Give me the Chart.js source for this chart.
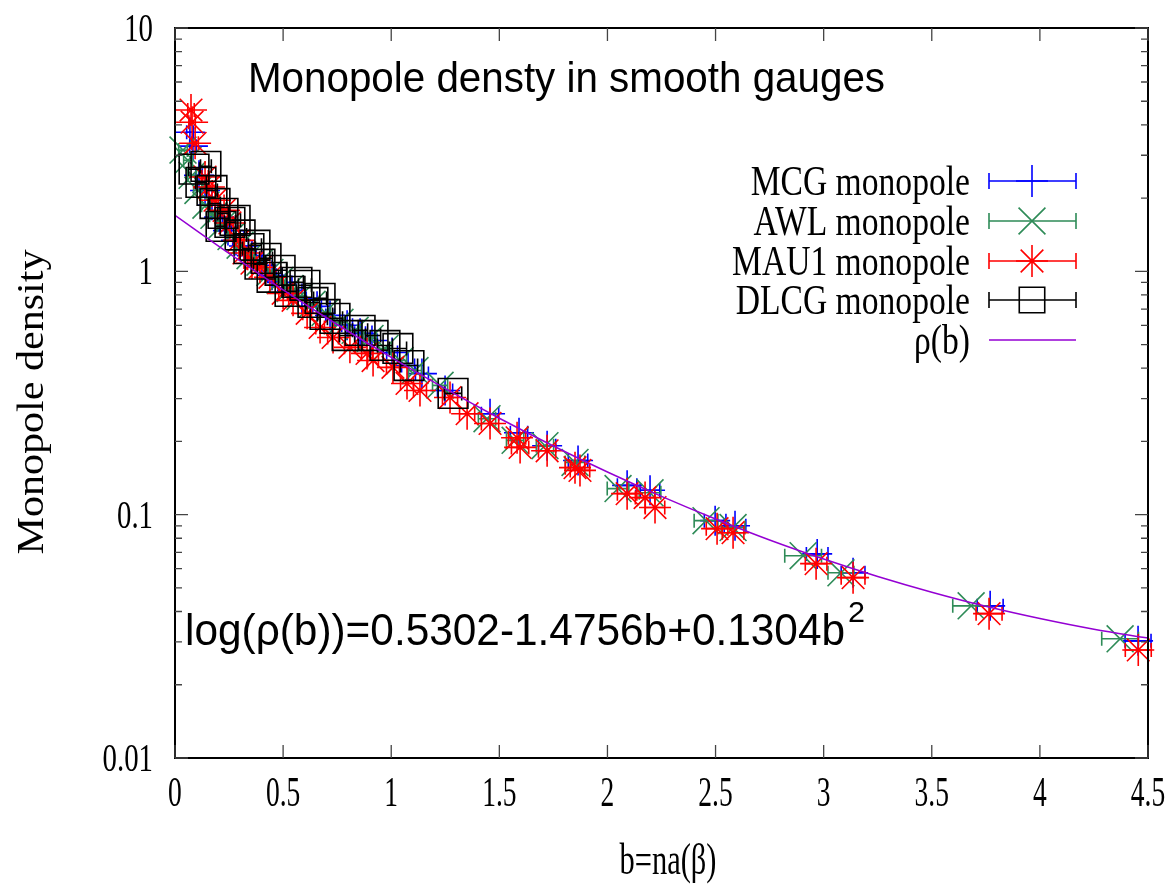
<!DOCTYPE html>
<html>
<head>
<meta charset="utf-8">
<script src="https://cdn.jsdelivr.net/npm/chart.js@4.4.0/dist/chart.umd.min.js"></script>
<style>
    html, body { margin: 0; padding: 0; background: #fff; }
</style>
</head>
<body>
<canvas id="densityChart" width="1172" height="884"></canvas>
<script>
// values (b, rho, x error)
const mcgB = [0.069, 0.083, 0.111, 0.139, 0.171, 0.204, 0.245, 0.282, 0.319, 0.356, 0.402, 0.449, 0.495, 0.541, 0.587, 0.657, 0.717, 0.796, 0.856, 0.911, 1.004, 1.078, 1.142, 1.249, 1.457, 1.591, 1.721, 1.864, 2.091, 2.197, 2.498, 2.590, 2.970, 3.136, 3.770, 4.454];
const mcgRho = [3.73, 3.27, 2.48, 2.15, 1.87, 1.67, 1.47, 1.34, 1.27, 1.16, 1.06, 0.963, 0.901, 0.835, 0.774, 0.718, 0.659, 0.600, 0.556, 0.520, 0.464, 0.410, 0.380, 0.324, 0.260, 0.217, 0.192, 0.167, 0.132, 0.126, 0.0945, 0.090, 0.069, 0.0577, 0.0422, 0.0303];
const mcgErr = [0.015, 0.015, 0.015, 0.015, 0.015, 0.015, 0.015, 0.015, 0.02, 0.02, 0.02, 0.02, 0.02, 0.02, 0.02, 0.02, 0.02, 0.025, 0.025, 0.025, 0.025, 0.03, 0.03, 0.035, 0.04, 0.04, 0.04, 0.045, 0.045, 0.045, 0.05, 0.05, 0.05, 0.055, 0.06, 0.06];

const awlB = [0.037, 0.060, 0.079, 0.106, 0.143, 0.180, 0.217, 0.259, 0.301, 0.347, 0.393, 0.439, 0.486, 0.532, 0.578, 0.634, 0.694, 0.763, 0.833, 0.902, 0.971, 1.041, 1.110, 1.226, 1.443, 1.573, 1.711, 1.850, 2.049, 2.197, 2.456, 2.581, 2.905, 3.080, 3.682, 4.371];
const awlRho = [3.15, 2.86, 2.48, 2.15, 1.87, 1.70, 1.55, 1.39, 1.28, 1.16, 1.09, 0.99, 0.918, 0.851, 0.789, 0.732, 0.678, 0.617, 0.572, 0.530, 0.482, 0.430, 0.391, 0.340, 0.248, 0.202, 0.192, 0.164, 0.128, 0.123, 0.0945, 0.0885, 0.0678, 0.0577, 0.0422, 0.0309];
const awlErr = [0.02, 0.02, 0.02, 0.02, 0.02, 0.02, 0.02, 0.02, 0.02, 0.02, 0.02, 0.02, 0.025, 0.025, 0.025, 0.025, 0.025, 0.025, 0.03, 0.03, 0.03, 0.03, 0.03, 0.035, 0.04, 0.04, 0.04, 0.045, 0.05, 0.05, 0.055, 0.055, 0.085, 0.06, 0.085, 0.085];

const mauB = [0.074, 0.079, 0.093, 0.139, 0.157, 0.185, 0.227, 0.254, 0.296, 0.319, 0.356, 0.393, 0.439, 0.500, 0.546, 0.611, 0.671, 0.731, 0.809, 0.888, 0.916, 1.008, 1.073, 1.133, 1.272, 1.351, 1.457, 1.582, 1.596, 1.721, 1.850, 1.873, 2.091, 2.174, 2.220, 2.507, 2.581, 2.965, 3.136, 3.765, 4.455];
const mauRho = [4.6, 4.10, 3.36, 2.44, 2.22, 1.96, 1.78, 1.58, 1.34, 1.19, 1.08, 1.04, 0.945, 0.812, 0.760, 0.672, 0.588, 0.535, 0.487, 0.460, 0.430, 0.403, 0.346, 0.324, 0.303, 0.260, 0.237, 0.207, 0.189, 0.183, 0.156, 0.152, 0.122, 0.1175, 0.107, 0.0876, 0.0843, 0.0629, 0.0551, 0.0392, 0.0278];
const mauErr = [0.015, 0.015, 0.015, 0.015, 0.015, 0.015, 0.015, 0.015, 0.02, 0.02, 0.02, 0.02, 0.02, 0.02, 0.02, 0.02, 0.02, 0.025, 0.025, 0.025, 0.025, 0.03, 0.03, 0.03, 0.035, 0.035, 0.04, 0.04, 0.04, 0.04, 0.045, 0.045, 0.045, 0.045, 0.045, 0.05, 0.05, 0.05, 0.055, 0.06, 0.06];

const dlcgB = [0.088, 0.120, 0.143, 0.171, 0.185, 0.213, 0.222, 0.254, 0.278, 0.301, 0.342, 0.370, 0.393, 0.421, 0.449, 0.486, 0.532, 0.564, 0.601, 0.638, 0.671, 0.694, 0.740, 0.796, 0.856, 0.916, 0.971, 1.031, 1.082, 1.286];
const dlcgRho = [2.63, 2.32, 2.70, 2.15, 1.90, 1.53, 1.73, 1.59, 1.62, 1.41, 1.24, 1.28, 1.07, 1.13, 0.945, 1.01, 0.827, 0.901, 0.876, 0.745, 0.774, 0.665, 0.641, 0.545, 0.572, 0.545, 0.496, 0.482, 0.410, 0.315];
const dlcgErr = [0.025, 0.025, 0.025, 0.025, 0.025, 0.025, 0.025, 0.025, 0.025, 0.03, 0.03, 0.03, 0.03, 0.03, 0.03, 0.03, 0.03, 0.03, 0.03, 0.03, 0.03, 0.035, 0.035, 0.035, 0.035, 0.035, 0.035, 0.04, 0.04, 0.04];

// fitted curve rho(b), read at steps of 0.25
const fitB = [0, 0.25, 0.5, 0.75, 1, 1.25, 1.5, 1.75, 2, 2.25, 2.5, 2.75, 3, 3.25, 3.5, 3.75, 4, 4.25, 4.5];
const fitRho = [1.699, 1.185, 0.8395, 0.6046, 0.4426, 0.3294, 0.2491, 0.1915, 0.1497, 0.1189, 0.0960, 0.0787, 0.0657, 0.0557, 0.0480, 0.0420, 0.0374, 0.0338, 0.0311];

const xTickValues = [0, 0.5, 1, 1.5, 2, 2.5, 3, 3.5, 4, 4.5];
const xTickLabels = ['0', '0.5', '1', '1.5', '2', '2.5', '3', '3.5', '4', '4.5'];
const yTickValues = [0.01, 0.1, 1, 10];
const yTickLabels = ['0.01', '0.1', '1', '10'];

const seriesNames = ['MCG monopole', 'AWL monopole', 'MAU1 monopole', 'DLCG monopole', 'ρ(b)'];
const seriesColors = ['#0000ff', '#2e8b57', '#ff0000', '#000000', '#9400d3'];
const seriesStyles = ['cross', 'crossRot', 'star', 'rect', null];

const toPoints = (bs, rs) => bs.map((b, i) => ({ x: b, y: rs[i] }));

function markerDataset(idx, bs, rs, errs, radius, order) {
    return {
        label: seriesNames[idx],
        data: toPoints(bs, rs),
        xErr: errs,
        showLine: false,
        pointStyle: seriesStyles[idx],
        pointRadius: radius,
        pointBorderWidth: 1.6,
        pointBorderColor: seriesColors[idx],
        pointBackgroundColor: 'rgba(0,0,0,0)',
        borderColor: seriesColors[idx],
        clip: false,
        order: order
    };
}

function drawMarker(ctx, style, x, y, r) {
    ctx.beginPath();
    if (style === 'cross') {
        ctx.moveTo(x - r, y); ctx.lineTo(x + r, y);
        ctx.moveTo(x, y - r); ctx.lineTo(x, y + r);
    } else if (style === 'crossRot') {
        const d = r * Math.SQRT1_2;
        ctx.moveTo(x - d, y - d); ctx.lineTo(x + d, y + d);
        ctx.moveTo(x - d, y + d); ctx.lineTo(x + d, y - d);
    } else if (style === 'star') {
        const d = r * Math.SQRT1_2;
        ctx.moveTo(x - r, y); ctx.lineTo(x + r, y);
        ctx.moveTo(x, y - r); ctx.lineTo(x, y + r);
        ctx.moveTo(x - d, y - d); ctx.lineTo(x + d, y + d);
        ctx.moveTo(x - d, y + d); ctx.lineTo(x + d, y - d);
    } else if (style === 'rect') {
        const s = r * Math.SQRT1_2;
        ctx.rect(x - s, y - s, 2 * s, 2 * s);
    }
    ctx.stroke();
}

// text squeezed/stretched horizontally to a given width
function fitText(ctx, text, x, y, font, width, align) {
    ctx.save();
    ctx.font = font;
    const w = ctx.measureText(text).width;
    ctx.translate(x, y);
    ctx.scale(width / w, 1);
    ctx.textAlign = align;
    ctx.textBaseline = 'alphabetic';
    ctx.fillText(text, 0, 0);
    ctx.restore();
}

// text with a fixed horizontal squeeze factor
function narrowText(ctx, text, x, y, font, sx, align) {
    ctx.save();
    ctx.font = font;
    ctx.translate(x, y);
    ctx.scale(sx, 1);
    ctx.textAlign = align;
    ctx.textBaseline = 'alphabetic';
    ctx.fillText(text, 0, 0);
    ctx.restore();
}

const gnuplotLook = {
    id: 'gnuplotLook',
    afterDatasetDraw(chart, args) {
        const ds = chart.data.datasets[args.index];
        if (!ds.xErr) return;
        const ctx = chart.ctx;
        const xs = chart.scales.x;
        ctx.save();
        ctx.strokeStyle = ds.borderColor;
        ctx.lineWidth = 1.6;
        ds.data.forEach((p, i) => {
            const el = args.meta.data[i];
            const x1 = xs.getPixelForValue(p.x - ds.xErr[i]);
            const x2 = xs.getPixelForValue(p.x + ds.xErr[i]);
            ctx.beginPath();
            ctx.moveTo(x1, el.y); ctx.lineTo(x2, el.y);
            ctx.moveTo(x1, el.y - 7); ctx.lineTo(x1, el.y + 7);
            ctx.moveTo(x2, el.y - 7); ctx.lineTo(x2, el.y + 7);
            ctx.stroke();
        });
        ctx.restore();
    },
    afterDraw(chart) {
        const ctx = chart.ctx;
        const { left, right, top, bottom } = chart.chartArea;
        const xs = chart.scales.x, ys = chart.scales.y;

        // frame with inward ticks on all sides
        ctx.save();
        ctx.strokeStyle = '#000';
        ctx.lineWidth = 2;
        ctx.strokeRect(left, top, right - left, bottom - top);
        ctx.strokeStyle = '#444';
        ctx.lineWidth = 1.3;
        ctx.beginPath();
        xTickValues.forEach(v => {
            const px = xs.getPixelForValue(v);
            ctx.moveTo(px, bottom); ctx.lineTo(px, bottom - 13);
            ctx.moveTo(px, top); ctx.lineTo(px, top + 13);
        });
        yTickValues.forEach(d => {
            for (let m = 1; m <= 9; m++) {
                const v = d * m;
                if (v > 10.0001) break;
                const py = ys.getPixelForValue(v);
                const len = m === 1 ? 13 : 7;
                ctx.moveTo(left, py); ctx.lineTo(left + len, py);
                ctx.moveTo(right, py); ctx.lineTo(right - len, py);
            }
        });
        ctx.stroke();
        ctx.restore();

        ctx.save();
        ctx.fillStyle = '#000';

        // tick labels, placed with the scales
        xTickValues.forEach((v, i) => {
            narrowText(ctx, xTickLabels[i], xs.getPixelForValue(v), 806, '43px "Liberation Serif"', 0.64, 'center');
        });
        yTickValues.forEach((v, i) => {
            narrowText(ctx, yTickLabels[i], 153, ys.getPixelForValue(v) + 13, '40px "Liberation Serif"', 0.72, 'right');
        });

        // titles and annotation
        fitText(ctx, 'Monopole densty in smooth gauges', 248, 92, '42px "Liberation Sans"', 637, 'left');
        fitText(ctx, 'log(ρ(b))=0.5302-1.4756b+0.1304b', 185, 645, '44px "Liberation Sans"', 660, 'left');
        fitText(ctx, '2', 848, 622, '30px "Liberation Sans"', 17, 'left');
        fitText(ctx, 'b=na(β)', 668, 874, '44px "Liberation Serif"', 97, 'center');

        ctx.save();
        ctx.translate(43, 402);
        ctx.rotate(-Math.PI / 2);
        fitText(ctx, 'Monopole density', 0, 0, '38px "Liberation Serif"', 305, 'center');
        ctx.restore();

        // legend
        const rowY = [181, 221, 261, 300, 340];
        seriesNames.forEach((name, i) => {
            const y = rowY[i];
            narrowText(ctx, name, 970, y + 14, '42px "Liberation Serif"', 0.8, 'right');

            ctx.strokeStyle = seriesColors[i];
            ctx.lineWidth = 1.6;
            ctx.beginPath();
            ctx.moveTo(989, y); ctx.lineTo(1076, y);
            if (seriesStyles[i]) {
                ctx.moveTo(989, y - 8); ctx.lineTo(989, y + 8);
                ctx.moveTo(1076, y - 8); ctx.lineTo(1076, y + 8);
            }
            ctx.stroke();
            const radius = [16, 19, 16, 18][i];
            if (seriesStyles[i]) drawMarker(ctx, seriesStyles[i], 1032, y, radius);
        });
        ctx.restore();
    }
};

const ctx = document.getElementById('densityChart').getContext('2d');
const densityChart = new Chart(ctx, {
    type: 'scatter',
    data: {
        datasets: [
            markerDataset(0, mcgB, mcgRho, mcgErr, 15, 4),
            markerDataset(1, awlB, awlRho, awlErr, 19, 3),
            markerDataset(2, mauB, mauRho, mauErr, 16, 2),
            markerDataset(3, dlcgB, dlcgRho, dlcgErr, 21, 1),
            {
                label: seriesNames[4],
                data: toPoints(fitB, fitRho),
                showLine: true,
                borderColor: seriesColors[4],
                borderWidth: 1.5,
                pointRadius: 0,
                cubicInterpolationMode: 'monotone',
                order: 0
            }
        ]
    },
    options: {
        responsive: false,
        animation: false,
        layout: {
            padding: { top: 28, right: 24, left: 0, bottom: 0 }
        },
        plugins: {
            legend: { display: false },
            tooltip: { enabled: false }
        },
        scales: {
            x: {
                type: 'linear',
                min: 0,
                max: 4.5,
                grid: { display: false, drawTicks: false },
                border: { display: false },
                afterBuildTicks: scale => {
                    scale.ticks = xTickValues.map(v => ({ value: v }));
                },
                afterFit: scale => { scale.height = 126; },
                ticks: { display: false }
            },
            y: {
                type: 'logarithmic',
                min: 0.01,
                max: 10,
                grid: { display: false, drawTicks: false },
                border: { display: false },
                afterBuildTicks: scale => {
                    scale.ticks = yTickValues.map(v => ({ value: v }));
                },
                afterFit: scale => { scale.width = 175; },
                ticks: { display: false }
            }
        }
    },
    plugins: [gnuplotLook]
});
</script>
</body>
</html>
